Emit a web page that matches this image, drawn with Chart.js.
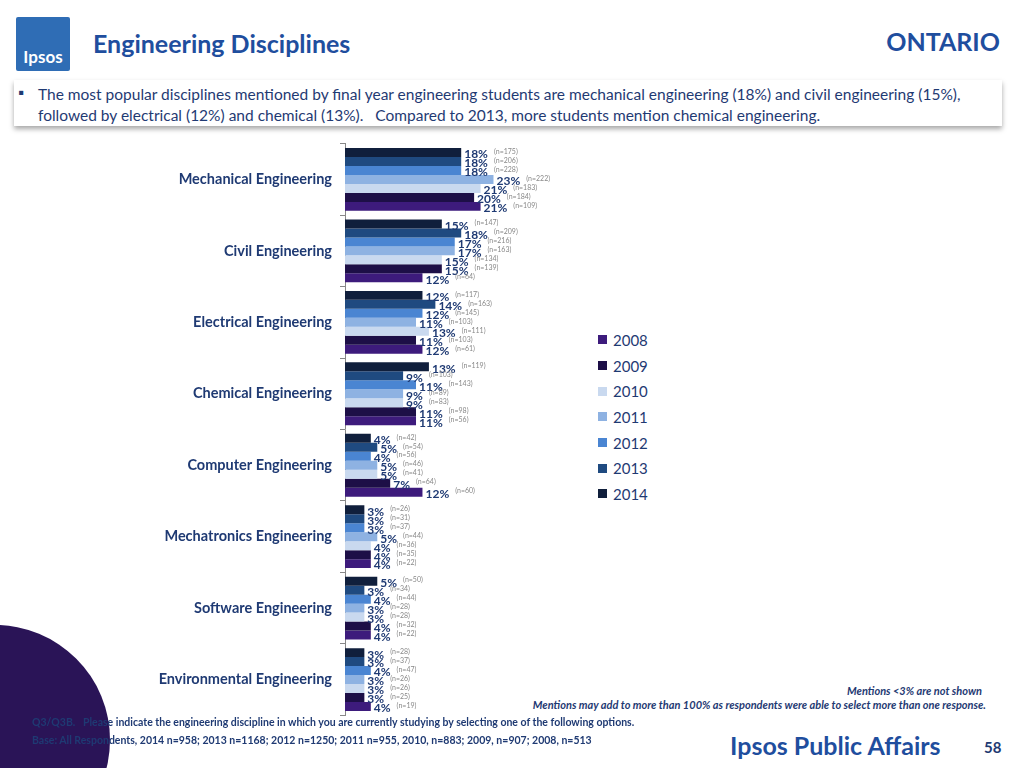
<!DOCTYPE html>
<html><head><meta charset="utf-8">
<script src="https://cdn.jsdelivr.net/npm/chart.js@4"></script>
<style>
body{margin:0;width:1024px;height:768px;position:relative;overflow:hidden;background:#fff;font-family:Lato,"Open Sans",sans-serif;}
#logo{position:absolute;left:16px;top:17px;width:54px;height:54px;background:#2f6db5;color:#fff;font-weight:bold;font-size:17px;text-align:center;line-height:80px;border-radius:2px}
#title{position:absolute;left:93px;top:28px;color:#1f4e9e;font-size:25px;font-weight:bold}
#ont{position:absolute;right:24px;top:26px;color:#1f4e9e;font-size:25px;font-weight:bold}
#box{position:absolute;left:14px;top:80px;width:988px;height:46px;box-shadow:0 3px 5px rgba(0,0,0,.35);font-size:15.5px;color:#1f3a73;line-height:21px}
#box span{position:absolute;left:4px;top:2px}
#box div{position:absolute;left:24px;top:4px;width:960px}
#circle{position:absolute;left:-120px;top:625px;width:230px;height:230px;border-radius:50%;background:#2a1457}
#legend{position:absolute;left:598px;top:327px;font-size:15px;color:#1f3a73}
#legend div{height:25.7px;display:flex;align-items:center}
#legend i{display:inline-block;width:9px;height:9px;margin-right:6px}
.note{position:absolute;right:38px;font-style:italic;font-weight:bold;font-size:11px;color:#1f3a73}
#q{position:absolute;left:32px;top:713px;font-size:10.5px;font-weight:bold;color:#1f3a73;line-height:18px;z-index:2}
#ipa{position:absolute;left:730px;top:730px;font-size:25px;color:#1f4e9e;font-weight:bold}
#pg{position:absolute;left:984px;top:738px;font-size:15px;color:#1f3a73;font-weight:bold}
#wrap{position:absolute;left:0;top:127px;width:600px;height:605px;z-index:1}
</style></head><body>
<div id="circle"></div>
<div id="logo">Ipsos</div>
<div id="title">Engineering Disciplines</div>
<div id="ont">ONTARIO</div>
<div id="box"><span>▪</span><div>The most popular disciplines mentioned by final year engineering students are mechanical engineering (18%) and civil engineering (15%), followed by electrical (12%) and chemical (13%).&nbsp;&nbsp; Compared to 2013, more students mention chemical engineering.</div></div>
<div id="wrap"><canvas id="c" width="600" height="605"></canvas></div>
<div id="legend"></div>
<div class="note" style="top:684px;right:42px">Mentions &lt;3% are not shown</div>
<div class="note" style="top:698px">Mentions may add to more than 100% as respondents were able to select more than one response.</div>
<div id="q">Q3/Q3B.&nbsp;&nbsp; Please indicate the engineering discipline in which you are currently studying by selecting one of the following options.<br>Base: All Respondents, 2014 n=958; 2013 n=1168; 2012 n=1250; 2011 n=955, 2010, n=883; 2009, n=907; 2008, n=513</div>
<div id="ipa">Ipsos Public Affairs</div>
<div id="pg">58</div>
<script>
const categories=["Mechanical Engineering","Civil Engineering","Electrical Engineering","Chemical Engineering","Computer Engineering","Mechatronics Engineering","Software Engineering","Environmental Engineering"];
const years=["2014","2013","2012","2011","2010","2009","2008"];
const colors=["#101f3c","#1f4a80","#4a85d2","#8eb2e2","#c9d9ef","#1d0f47","#3d1b7c"];
const v2014=[18,15,12,13,4,3,5,3];
const v2013=[18,18,14,9,5,3,3,3];
const v2012=[18,17,12,11,4,3,4,4];
const v2011=[23,17,11,9,5,5,3,3];
const v2010=[21,15,13,9,5,4,3,3];
const v2009=[20,15,11,11,7,4,4,3];
const v2008=[21,12,12,11,12,4,4,4];
const n2014=[175,147,117,119,42,26,50,28];
const n2013=[206,209,163,103,54,31,34,37];
const n2012=[228,216,145,143,56,37,44,47];
const n2011=[222,163,103,89,46,44,28,26];
const n2010=[183,134,111,83,41,36,28,26];
const n2009=[184,139,103,98,64,35,32,25];
const n2008=[109,64,61,56,60,22,22,19];
const vals=[v2014,v2013,v2012,v2011,v2010,v2009,v2008];
const ns=[n2014,n2013,n2012,n2011,n2010,n2009,n2008];
const lg=document.getElementById('legend');
for(let i=6;i>=0;i--){lg.innerHTML+=`<div><i style="background:${colors[i]}"></i>${years[i]}</div>`;}
const labelPlugin={id:'lbl',afterDatasetsDraw(ch){const c=ch.ctx;ch.data.datasets.forEach((d,di)=>{ch.getDatasetMeta(di).data.forEach((b,i)=>{const x=b.x+3,y=b.y+2;c.save();c.textBaseline='middle';c.font='bold 12px Lato';c.fillStyle='#1f3a73';const t=d.data[i]+'%';c.fillText(t,x,y);const w=c.measureText(t).width;c.font='7px Lato';c.fillStyle='#888';c.fillText('(n='+ns[di][i]+')',x+w+6,y-3);c.restore();});});}};
new Chart(document.getElementById('c'),{type:'bar',
data:{labels:categories,datasets:years.map((y,i)=>({label:y,data:vals[i],backgroundColor:colors[i],categoryPercentage:0.88,barPercentage:1}))},
options:{indexAxis:'y',responsive:false,animation:false,layout:{padding:0},
plugins:{legend:{display:false},tooltip:{enabled:false}},
scales:{x:{display:false,min:0,max:39.5},
y:{afterFit(s){s.width=345},grid:{drawOnChartArea:false,offset:true,color:'#888',tickLength:5},border:{color:'#888'},
ticks:{color:'#1f3a73',font:{family:'Lato',size:14.5,weight:'bold'},padding:8}}}},
plugins:[labelPlugin]});
</script>
</body></html>
